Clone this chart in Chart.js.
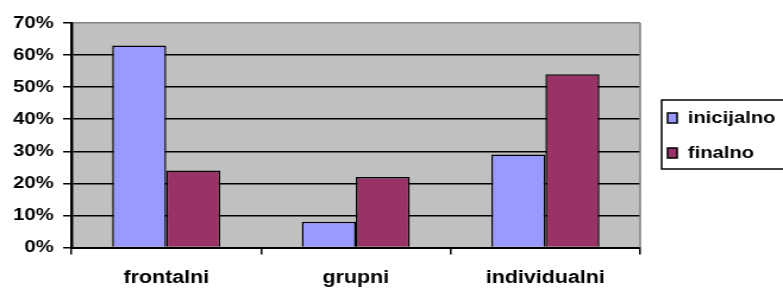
<!DOCTYPE html>
<html>
<head>
<meta charset="utf-8">
<script src="https://cdn.jsdelivr.net/npm/chart.js@4.4.1/dist/chart.umd.min.js"></script>
<style>
  html, body { margin: 0; padding: 0; background: #fff; }
  #chart { display: block; }
</style>
</head>
<body>
<!-- drawn narrower and stretched, the reference text is wide -->
<canvas id="chart" width="658" height="291" style="width:783px;height:291px"></canvas>
<script>
const categories = ['frontalni', 'grupni', 'individualni'];
const seriesNames = ['inicijalno', 'finalno'];
const inicijalno = [63, 8, 29];
const finalno = [24, 22, 54];
const yMax = 70;
const yStep = 10;

const FONT = { family: '"Liberation Sans", Arial, sans-serif', size: 17, weight: 'bold' };

const plotBackground = {
    id: 'plotBackground',
    beforeDraw(chart) {
        const { ctx, chartArea: a } = chart;
        ctx.save();
        ctx.fillStyle = '#c0c0c0';
        ctx.fillRect(a.left, a.top, a.right - a.left, a.bottom - a.top);
        ctx.restore();
    },
    afterDraw(chart) {
        const { ctx, chartArea: a } = chart;
        ctx.save();
        ctx.strokeStyle = '#808080';
        ctx.lineWidth = 1.5;
        ctx.beginPath();
        ctx.moveTo(a.right, a.top);
        ctx.lineTo(a.right, a.bottom);
        ctx.stroke();
        ctx.restore();
    }
};

const boxLegend = {
    id: 'boxLegend',
    afterDraw(chart) {
        const ctx = chart.ctx;
        const left = chart.chartArea.right + 18;
        ctx.save();
        ctx.strokeStyle = '#000';
        ctx.lineWidth = 1.5;
        ctx.strokeRect(left, 100, chart.width - left + 10, 69);
        ctx.font = 'bold 17px "Liberation Sans", Arial, sans-serif';
        ctx.textBaseline = 'middle';
        chart.data.datasets.forEach((ds, i) => {
            const y = 118 + i * 35;
            ctx.fillStyle = ds.backgroundColor;
            ctx.fillRect(left + 5, y - 5, 8, 10);
            ctx.strokeRect(left + 5, y - 5, 8, 10);
            ctx.fillStyle = '#000';
            ctx.fillText(ds.label, left + 22, y);
        });
        ctx.restore();
    }
};

function loadChart() {
    const ctx = document.getElementById('chart');

    new Chart(ctx, {
        type: 'bar',
        data: {
            labels: categories,
            datasets: [{
                label: seriesNames[0],
                data: inicijalno,
                backgroundColor: '#9999ff',
                borderColor: '#000',
                borderWidth: 1.5
            },
            {
                label: seriesNames[1],
                data: finalno,
                backgroundColor: '#993366',
                borderColor: '#000',
                borderWidth: 1.5
            }]
        },
        options: {
            responsive: false,
            animation: false,
            categoryPercentage: 0.57,
            barPercentage: 1,
            layout: {
                padding: { top: 23, right: 120, bottom: 0, left: 0 }
            },
            plugins: {
                legend: { display: false },
                tooltip: { enabled: false }
            },
            scales: {
                x: {
                    offset: true,
                    afterFit(scale) { scale.height = 43.5; },
                    grid: {
                        offset: true,
                        drawOnChartArea: false,
                        color: '#000',
                        lineWidth: 1.5,
                        tickLength: 7
                    },
                    border: { color: '#000', width: 2 },
                    ticks: {
                        color: '#000',
                        font: { family: FONT.family, size: 18, weight: 'bold' },
                        padding: 13,
                        maxRotation: 0
                    }
                },
                y: {
                    min: 0,
                    max: yMax,
                    afterFit(scale) { scale.width = 60; },
                    grid: {
                        color: (c) => c.tick && c.tick.value === yMax ? '#808080' : '#000',
                        tickColor: '#000',
                        lineWidth: 1.5,
                        tickLength: 7
                    },
                    border: { color: '#000', width: 2.5 },
                    ticks: {
                        stepSize: yStep,
                        color: '#000',
                        font: FONT,
                        padding: 8,
                        callback: (v) => v + '%'
                    }
                }
            }
        },
        plugins: [plotBackground, boxLegend]
    });
}

loadChart();
</script>
</body>
</html>
